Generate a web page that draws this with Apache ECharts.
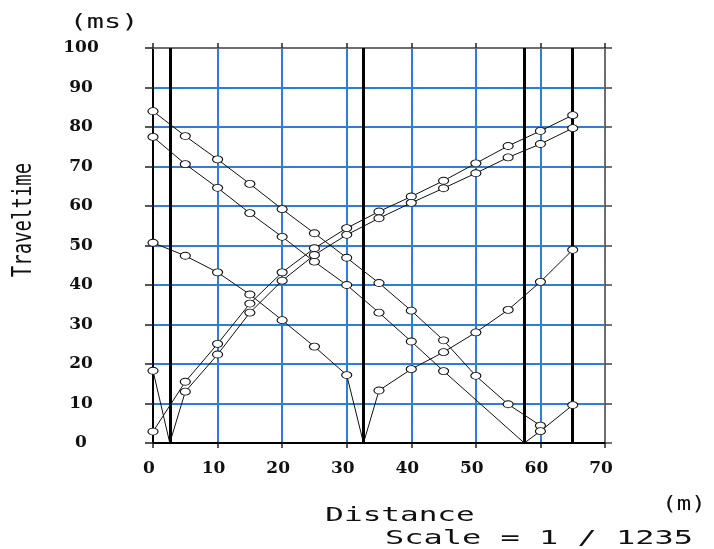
<!DOCTYPE html>
<html>
<head>
<meta charset="utf-8">
<script src="https://cdn.jsdelivr.net/npm/echarts@6/dist/echarts.min.js"></script>
<style>
  html, body { margin: 0; padding: 0; background: #fff; }
  #chart { width: 714px; height: 549px; }
</style>
</head>
<body>
<div id="chart"></div>
<script>
// Shot (source) positions along the line, in metres
const shotPositions = [2.6, 32.6, 57.5, 65.0];

// Travel-time picks [distance m, time ms]; the zero-time vertex at a shot carries no marker
const curveA = [[0, 84.0], [5, 77.7], [10, 71.8], [15, 65.6], [20, 59.2], [25, 53.1], [30, 46.9],
  [35, 40.5], [40, 33.5], [45, 26.0], [50, 17.0], [55, 9.8], [60, 4.4]];
const curveB = [[0, 77.5], [5, 70.6], [10, 64.6], [15, 58.2], [20, 52.2], [25, 45.9], [30, 40.0],
  [35, 33.0], [40, 25.7], [45, 18.2], [57.5, 0], [60, 3.0], [65, 9.6]];
const curveC = [[0, 2.9], [5, 15.5], [10, 25.1], [15, 35.3], [20, 43.2], [25, 49.3], [30, 54.4],
  [35, 58.6], [40, 62.4], [45, 66.4], [50, 70.8], [55, 75.2], [60, 79.0], [65, 83.0]];
const curveD = [[0, 18.3], [2.6, 0], [5, 13.0], [10, 22.4], [15, 33.0], [20, 41.1], [25, 47.6],
  [30, 52.7], [35, 56.9], [40, 60.8], [45, 64.5], [50, 68.3], [55, 72.3], [60, 75.7], [65, 79.7]];
const curveE = [[0, 50.7], [5, 47.4], [10, 43.2], [15, 37.6], [20, 31.1], [25, 24.4], [30, 17.2],
  [32.6, 0], [35, 13.3], [40, 18.7], [45, 23.0], [50, 28.0], [55, 33.7], [60, 40.8], [65, 48.9]];

const curves = { curveA, curveB, curveC, curveD, curveE };

const xRange = { min: 0, max: 70, interval: 10 };
const yRange = { min: 0, max: 100, interval: 10 };

const BLUE = '#2b7fd6';
const MONO = '"DejaVu Sans Mono", "Liberation Mono", monospace';
const TICK_FONT = { fontFamily: '"DejaVu Serif", "Liberation Serif", serif', fontWeight: 'bold', fontSize: 17, color: '#111' };

function isShotVertex(p) {
  return p[1] === 0 && shotPositions.includes(p[0]);
}

function toData(points) {
  return points.map(p => isShotVertex(p) ? { value: p, symbol: 'none' } : p);
}

const series = Object.keys(curves).map((name, i) => ({
  name,
  type: 'line',
  data: toData(curves[name]),
  symbol: 'circle',
  symbolSize: [10, 7],
  showAllSymbol: true,
  animation: false,
  lineStyle: { color: '#111', width: 1 },
  itemStyle: { color: '#fff', borderColor: '#111', borderWidth: 1 },
  z: 5,
  markLine: i === 0 ? {
    silent: true,
    symbol: 'none',
    label: { show: false },
    lineStyle: { color: '#000', width: 3, type: 'solid' },
    data: shotPositions.map(x => ({ xAxis: x })),
    z: 4
  } : undefined
}));

const chart = echarts.init(document.getElementById('chart'));
chart.setOption({
  animation: false,
  backgroundColor: '#fff',
  grid: { left: 153, right: 109, top: 48, bottom: 106 },
  xAxis: [
    {
      type: 'value', position: 'bottom', ...xRange,
      axisLine: { show: true, onZero: false, lineStyle: { color: '#000', width: 2 } },
      axisTick: { show: true, length: 5, lineStyle: { color: '#222', width: 1.5 } },
      axisLabel: { ...TICK_FONT, margin: 17, padding: [0, 8, 0, 0] },
      splitLine: { show: true, lineStyle: { color: BLUE, width: 2 } }
    },
    {
      type: 'value', position: 'top', ...xRange,
      axisLine: { show: true, onZero: false, lineStyle: { color: '#6e6e6e', width: 2 } },
      axisTick: { show: true, length: 5, lineStyle: { color: '#222', width: 1.5 } },
      axisLabel: { show: false },
      splitLine: { show: false }
    }
  ],
  yAxis: [
    {
      type: 'value', position: 'left', ...yRange,
      axisLine: { show: true, onZero: false, lineStyle: { color: '#000', width: 2 } },
      axisTick: { show: true, length: 8, lineStyle: { color: '#222', width: 1.5 } },
      axisLabel: { ...TICK_FONT, margin: 72, align: 'center' },
      splitLine: { show: true, lineStyle: { color: BLUE, width: 2 } }
    },
    {
      type: 'value', position: 'right', ...yRange,
      axisLine: { show: true, onZero: false, lineStyle: { color: '#6e6e6e', width: 2 } },
      axisTick: { show: true, length: 7, lineStyle: { color: '#444', width: 1.5 } },
      axisLabel: { show: false },
      splitLine: { show: false }
    }
  ],
  graphic: [
    { type: 'text', x: 104, y: 23, scaleX: 1.5,
      style: { text: '(ms)', font: '19px ' + MONO, fill: '#111', textAlign: 'center', textVerticalAlign: 'middle' } },
    { type: 'text', x: 24, y: 220, rotation: Math.PI / 2, scaleY: 1.4,
      style: { text: 'Traveltime', font: '19px ' + MONO, fill: '#111', textAlign: 'center', textVerticalAlign: 'middle' } },
    { type: 'text', x: 400, y: 516, scaleX: 1.55,
      style: { text: 'Distance', font: '20px ' + MONO, fill: '#111', textAlign: 'center', textVerticalAlign: 'middle' } },
    { type: 'text', x: 684, y: 505, scaleX: 1.2,
      style: { text: '(m)', font: '20px ' + MONO, fill: '#111', textAlign: 'center', textVerticalAlign: 'middle' } },
    { type: 'text', x: 539, y: 539, scaleX: 1.6,
      style: { text: 'Scale = 1 / 1235', font: '20px ' + MONO, fill: '#111', textAlign: 'center', textVerticalAlign: 'middle' } }
  ],
  series
});
</script>
</body>
</html>
